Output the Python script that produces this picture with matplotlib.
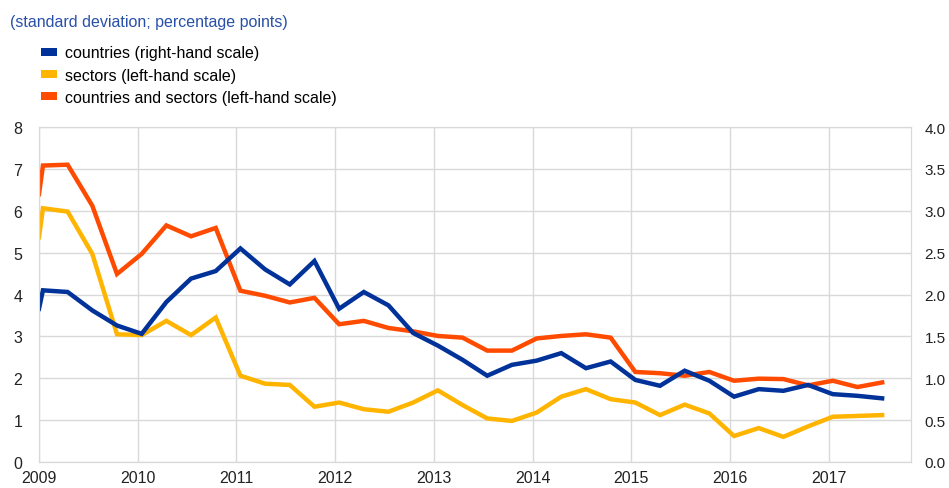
import matplotlib.pyplot as plt
from matplotlib.patches import Patch
import numpy as np

plt.rcParams['font.family'] = ['Liberation Sans', 'DejaVu Sans']

# quarterly observations (first value is where the lines meet the left edge)
dates = [2009.0] + [2009.04 + 0.25 * k for k in range(35)]

countries = [1.83, 2.05, 2.03, 1.81, 1.63, 1.53, 1.91, 2.19, 2.28,
             2.55, 2.30, 2.12, 2.40,
             1.83, 2.03, 1.87, 1.54, 1.39, 1.22, 1.03, 1.16,
             1.21, 1.30, 1.12, 1.20,
             0.98, 0.91, 1.09, 0.97, 0.78, 0.87, 0.85, 0.92,
             0.81, 0.79, 0.76]

sectors = [5.37, 6.06, 5.98, 4.97, 3.05, 3.03, 3.37, 3.03, 3.45,
           2.06, 1.87, 1.84, 1.32,
           1.42, 1.26, 1.20, 1.42, 1.71, 1.36, 1.04, 0.98,
           1.18, 1.56, 1.74, 1.50,
           1.42, 1.12, 1.37, 1.16, 0.62, 0.81, 0.60, 0.85,
           1.08, 1.10, 1.12]

both = [6.40, 7.08, 7.10, 6.12, 4.49, 4.97, 5.65, 5.39, 5.59,
        4.09, 3.97, 3.81, 3.92,
        3.29, 3.37, 3.20, 3.12, 3.01, 2.97, 2.66, 2.66,
        2.95, 3.01, 3.05, 2.97,
        2.15, 2.12, 2.06, 2.15, 1.94, 1.99, 1.98, 1.83,
        1.94, 1.79, 1.90]

years = list(range(2009, 2018))
left_ticks = list(range(0, 9))
right_ticks = [0.0, 0.5, 1.0, 1.5, 2.0, 2.5, 3.0, 3.5, 4.0]

labels = ['countries (right-hand scale)',
          'sectors (left-hand scale)',
          'countries and sectors (left-hand scale)']

BLUE = '#003299'
YELLOW = '#FFB400'
ORANGE = '#FF4B00'
GRID = '#d9d9d9'

fig = plt.figure(figsize=(9.49, 4.89), dpi=100)
ax = fig.add_axes([0.0411, 0.0532, 0.9186, 0.6850])
ax2 = ax.twinx()

ax.plot(dates, sectors, color=YELLOW, lw=3.2, solid_joinstyle='miter')
ax.plot(dates, both, color=ORANGE, lw=3.2, solid_joinstyle='miter')
ax2.plot(dates, countries, color=BLUE, lw=3.2, solid_joinstyle='miter')

ax.set_xlim(2009, 2017.83)
ax.set_ylim(0, 8)
ax2.set_ylim(0, 4)
ax.set_xticks(years)
ax.set_xticklabels([str(y) for y in years])
ax.set_yticks(left_ticks)
ax2.set_yticks(right_ticks)
ax2.set_yticklabels(['%.1f' % v for v in right_ticks])

ax.grid(True, color=GRID, lw=1)
ax.set_axisbelow(True)
for a in (ax, ax2):
    for s in a.spines.values():
        s.set_color(GRID)
    a.tick_params(length=0, labelsize=11.5, colors='#222222')
ax.tick_params(axis='x', pad=6)
ax.tick_params(axis='y', pad=12)
ax2.tick_params(axis='y', pad=10, labelsize=11)

fig.text(0.011, 0.955, '(standard deviation; percentage points)',
         color='#2950a8', fontsize=11.5, va='center')

handles = [Patch(facecolor=c) for c in (BLUE, YELLOW, ORANGE)]
fig.legend(handles, labels, loc='upper left', bbox_to_anchor=(0.036, 0.918),
           frameon=False, fontsize=11.5, handlelength=1.05, handleheight=0.45,
           handletextpad=0.5, labelspacing=0.45, borderaxespad=0)

fig.savefig('out.png', dpi=100)
